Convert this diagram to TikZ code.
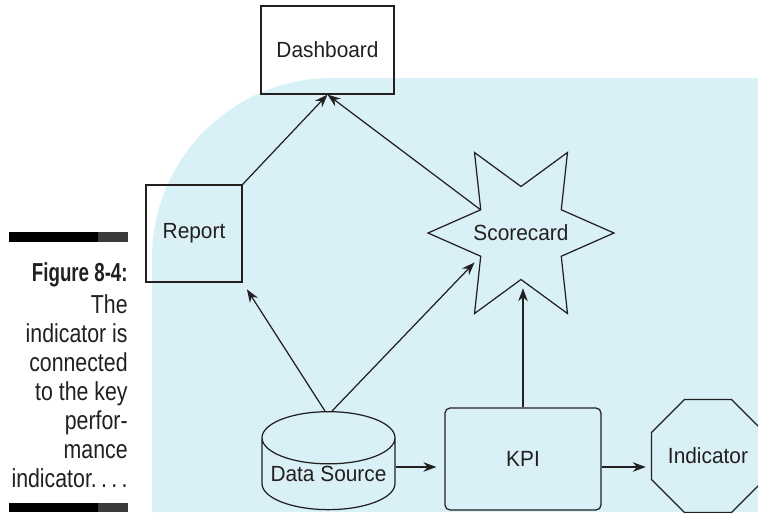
\documentclass[tikz,border=0pt]{standalone}
\usepackage{fontspec}
\setmainfont{Liberation Sans}[FakeStretch=0.95]
\newfontfamily\capfont[FakeStretch=0.82,BoldFeatures={FakeStretch=0.72}]{Liberation Sans}
\usetikzlibrary{arrows.meta,positioning,calc,shapes.geometric}
\definecolor{Ink}{HTML}{231F20}
\definecolor{Panel}{HTML}{D9F0F6}
\definecolor{BarGray}{HTML}{3A3A3A}

\begin{document}
\begin{tikzpicture}[x=0.02cm,y=-0.02cm,
txt/.style={text=Ink,font=\fontsize{12.5}{15}\selectfont},
box/.style={txt,draw=Ink,line width=0.7pt,inner sep=0pt},
kpibox/.style={box,rounded corners=0.1cm},
store/.style={box,cylinder,shape border rotate=90,aspect=0.45},
burst/.style={box,star,star points=6,star point ratio=2,shape border rotate=30,minimum size=3.72cm},
stop/.style={box,regular polygon,regular polygon sides=8,minimum size=2.4cm},
arr/.style={-{Stealth[length=0.26cm,width=0.19cm]},draw=Ink,line width=0.7pt},
gap/.style={arr,shorten >=0.16cm}]
\useasboundingbox (0,0) rectangle (758,512);
% backdrop behind the diagram
\fill[Panel] (152,512) -- (152,258) arc[start angle=180,end angle=270,radius=180] -- (758,78) -- (758,512) -- cycle;
% caption column with its rules
\fill[black] (9,232) rectangle (98,242);
\fill[BarGray] (98,232) rectangle (128,242);
\fill[black] (9,503) rectangle (98,512);
\fill[BarGray] (98,503) rectangle (128,512);
\node[anchor=north east,align=right,inner sep=0pt,text=Ink,font=\capfont\fontsize{14.8}{16.5}\selectfont] (cap) at (128,262)
  {\textbf{Figure 8-4:}\\[2pt]The\\indicator is\\connected\\to the key\\perfor-\\mance\\indicator.\,.\,.\,.};
% shapes
\node[box,minimum width=2.66cm,minimum height=1.76cm] (dash) at (327.5,50) {Dashboard};
\node[box,minimum width=1.92cm,minimum height=1.94cm] (rep) at (194,233.5) {Report};
\node[burst,label={[txt]center:Scorecard}] (sc) at (521,233) {};
\node[store,minimum width=2.66cm,minimum height=1.96cm] (src) at (328.5,474) {Data Source};
\node[kpibox,minimum width=3.12cm,minimum height=2.04cm] (kpi) at (523,459) {KPI};
\node[stop] (ind) at (708,456) {Indicator};
% links
\coordinate (row) at ([yshift=0.14cm]src.east);
\draw[arr] (rep.north east) -- (dash.south);
\draw[arr] (sc.inner point 1) -- (dash.south);
\draw[gap] ([xshift=-0.07cm]src.north) -- (rep.south east);
\draw[gap] ([xshift=0.07cm]src.north) -- (sc.inner point 2);
\draw[gap] (kpi.north) -- (kpi.north |- sc.inner point 3);
\draw[gap] (row) -- (row -| kpi.west);
\draw[gap,shorten >=0.1cm] (row -| kpi.east) -- (row -| ind.west);
\end{tikzpicture}
\end{document}
